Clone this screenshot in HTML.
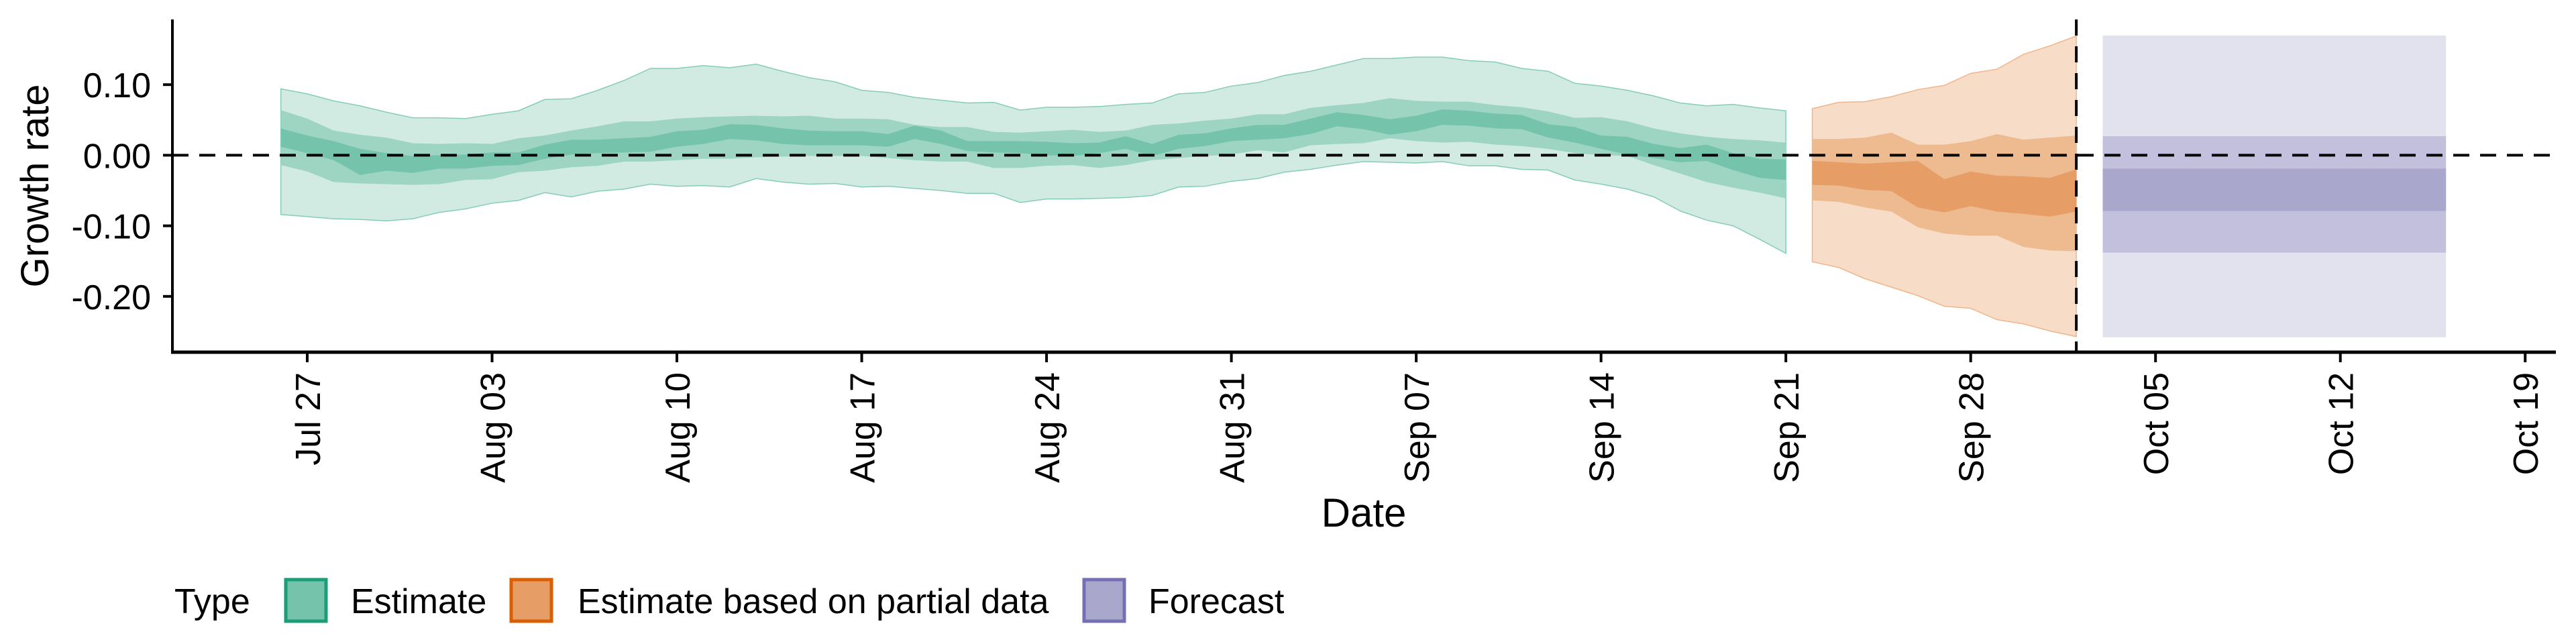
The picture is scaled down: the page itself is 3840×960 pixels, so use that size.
<!DOCTYPE html>
<html><head><meta charset="utf-8">
<style>
html,body{margin:0;padding:0;background:#fff;}
svg{display:block;font-family:"Liberation Sans",Arial,sans-serif;}
</style></head>
<body>
<svg id="chart" width="3840" height="960" viewBox="0 0 3840 960" xmlns="http://www.w3.org/2000/svg">
<g id="bands"></g>
<g id="axes"></g>
<text transform="translate(72,277) rotate(-90)" text-anchor="middle" font-size="58">Growth rate</text>
<text x="2033" y="785" text-anchor="middle" font-size="60">Date</text>
<g font-size="52">
  <text x="260" y="914">Type</text>
  <g>
    <rect x="426" y="864" width="60" height="62" fill="#76c3ab" stroke="#1b9e77" stroke-width="5"/>
    <text x="523" y="914">Estimate</text>
  </g>
  <g>
    <rect x="762" y="864" width="60" height="62" fill="#e69d66" stroke="#d95f02" stroke-width="5"/>
    <text x="861" y="914">Estimate based on partial data</text>
  </g>
  <g>
    <rect x="1616" y="864" width="60" height="62" fill="#aaa7cd" stroke="#7570b3" stroke-width="5"/>
    <text x="1712" y="914">Forecast</text>
  </g>
</g>
</svg>
<script>
// day index 0 = Jul 27
const estDays = [-1,0,1,2,3,4,5,6,7,8,9,10,11,12,13,14,15,16,17,18,19,20,21,22,23,24,25,26,27,28,29,30,31,32,33,34,35,36,37,38,39,40,41,42,43,44,45,46,47,48,49,50,51,52,53,54,55,56];
const estU90 = [0.094,0.087,0.077,0.070,0.061,0.053,0.053,0.052,0.058,0.063,0.079,0.080,0.092,0.106,0.123,0.123,0.127,0.124,0.129,0.119,0.110,0.104,0.092,0.089,0.082,0.078,0.074,0.075,0.064,0.068,0.068,0.069,0.072,0.074,0.087,0.089,0.098,0.103,0.113,0.119,0.128,0.137,0.137,0.139,0.139,0.134,0.132,0.123,0.119,0.102,0.098,0.092,0.084,0.074,0.070,0.072,0.067,0.063];
const estL90 = [-0.084,-0.087,-0.090,-0.091,-0.093,-0.090,-0.081,-0.076,-0.068,-0.064,-0.053,-0.059,-0.051,-0.048,-0.041,-0.044,-0.043,-0.045,-0.033,-0.038,-0.041,-0.040,-0.045,-0.044,-0.047,-0.050,-0.054,-0.054,-0.067,-0.062,-0.062,-0.061,-0.060,-0.057,-0.045,-0.044,-0.037,-0.033,-0.024,-0.020,-0.014,-0.009,-0.010,-0.011,-0.009,-0.015,-0.015,-0.020,-0.021,-0.035,-0.041,-0.048,-0.059,-0.079,-0.092,-0.100,-0.119,-0.139];
const estU50 = [0.064,0.052,0.035,0.029,0.025,0.017,0.016,0.017,0.016,0.024,0.028,0.035,0.041,0.048,0.048,0.052,0.054,0.055,0.056,0.055,0.056,0.052,0.052,0.051,0.043,0.040,0.040,0.033,0.032,0.034,0.036,0.033,0.035,0.043,0.045,0.049,0.052,0.058,0.058,0.067,0.071,0.074,0.081,0.077,0.076,0.076,0.071,0.068,0.062,0.053,0.054,0.048,0.038,0.031,0.026,0.023,0.021,0.018];
const estL50 = [-0.014,-0.023,-0.038,-0.040,-0.041,-0.042,-0.041,-0.035,-0.034,-0.024,-0.022,-0.017,-0.015,-0.009,-0.009,-0.007,-0.005,-0.005,-0.003,-0.002,-0.001,-0.001,-0.001,-0.004,-0.007,-0.009,-0.009,-0.018,-0.018,-0.015,-0.014,-0.018,-0.014,-0.007,-0.004,-0.001,0.001,0.007,0.004,0.014,0.016,0.017,0.024,0.020,0.018,0.019,0.015,0.013,0.009,0.003,0.000,-0.001,-0.014,-0.026,-0.038,-0.046,-0.053,-0.061];
const estU20 = [0.038,0.028,0.020,0.009,0.003,-0.001,0.000,0.001,0.004,0.004,0.015,0.022,0.022,0.024,0.026,0.034,0.036,0.044,0.043,0.038,0.035,0.034,0.034,0.030,0.042,0.035,0.020,0.020,0.020,0.019,0.017,0.018,0.027,0.016,0.029,0.031,0.038,0.043,0.043,0.052,0.061,0.057,0.051,0.056,0.065,0.063,0.059,0.057,0.044,0.040,0.028,0.026,0.016,0.010,0.015,0.003,-0.005,-0.006];
const estL20 = [0.012,0.003,-0.007,-0.028,-0.022,-0.025,-0.019,-0.019,-0.015,-0.014,-0.005,0.001,0.003,0.004,0.005,0.012,0.016,0.023,0.021,0.016,0.014,0.014,0.014,0.012,0.023,0.016,0.006,0.004,0.003,0.000,-0.001,0.003,0.009,-0.001,0.009,0.013,0.020,0.022,0.024,0.030,0.041,0.037,0.029,0.034,0.043,0.042,0.038,0.037,0.025,0.018,0.009,0.001,-0.004,-0.010,-0.008,-0.021,-0.032,-0.035];

const partDays = [57,58,59,60,61,62,63,64,65,66,67];
const partU90 = [0.066,0.075,0.076,0.083,0.093,0.099,0.116,0.122,0.143,0.155,0.169];
const partL90 = [-0.151,-0.159,-0.175,-0.187,-0.199,-0.214,-0.217,-0.233,-0.239,-0.249,-0.257];
const partU50 = [0.023,0.023,0.025,0.032,0.015,0.015,0.020,0.030,0.022,0.025,0.028];
const partL50 = [-0.064,-0.066,-0.074,-0.080,-0.102,-0.111,-0.114,-0.114,-0.130,-0.135,-0.136];
const partU20 = [-0.008,-0.010,-0.012,-0.010,-0.008,-0.034,-0.023,-0.029,-0.030,-0.032,-0.020];
const partL20 = [-0.042,-0.043,-0.049,-0.051,-0.074,-0.081,-0.072,-0.080,-0.083,-0.087,-0.080];

const fcStart = 68, fcEnd = 81;
const fcBounds = [0.1696,-0.258,0.027,-0.138,-0.019,-0.079];

const yTicks = [0.10,0.00,-0.10,-0.20];
const yTickLabels = ["0.10","0.00","-0.10","-0.20"];
const xTicks = [0,7,14,21,28,35,42,49,56,63,70,77,84];
const xTickLabels = ["Jul 27","Aug 03","Aug 10","Aug 17","Aug 24","Aug 31","Sep 07","Sep 14","Sep 21","Sep 28","Oct 05","Oct 12","Oct 19"];
const dataCutoff = 67;

const NS = "http://www.w3.org/2000/svg";
const X = d => 458 + 39.36 * d;
const Y = v => 231.4 - 1052 * v;
function mk(tag, attrs, parent){ const e=document.createElementNS(NS,tag); for(const k in attrs) e.setAttribute(k,attrs[k]); parent.appendChild(e); return e; }
function band(parent, days, up, lo, fill, stroke, name){
  let pts = days.map((d,i)=>X(d)+","+Y(up[i]));
  for(let i=days.length-1;i>=0;i--) pts.push(X(days[i])+","+Y(lo[i]));
  const p = mk("polygon",{points:pts.join(" "),fill:fill,stroke:stroke,"stroke-width":stroke==="none"?0:1.5},parent);
  
  
}
const bands = document.getElementById("bands");
band(bands, estDays, estU90, estL90, "#d2ebe2", "#86cdb6", "estimate-band-90");
band(bands, estDays, estU50, estL50, "#9dd4c2", "none", "estimate-band-50");
band(bands, estDays, estU20, estL20, "#76c3ab", "none", "estimate-band-20");
band(bands, partDays, partU90, partL90, "#f7dcc8", "#f0b58a", "partial-band-90");
band(bands, partDays, partU50, partL50, "#eeba8f", "none", "partial-band-50");
band(bands, partDays, partU20, partL20, "#e69d66", "none", "partial-band-20");
const fcNames = ["forecast-band-90","forecast-band-50","forecast-band-20"];
const fcFills = ["#e2e2ef","#c3c0dd","#aaa7cd"];
for(let k=0;k<3;k++){
  const up=fcBounds[2*k], lo=fcBounds[2*k+1];
  const r = mk("rect",{x:X(fcStart),y:Y(up),width:X(fcEnd)-X(fcStart),height:Y(lo)-Y(up),fill:fcFills[k]},bands);
  
  
}
const axes = document.getElementById("axes");
const zl = mk("line",{x1:257,x2:3810,y1:Y(0),y2:Y(0),stroke:"#000","stroke-width":4,"stroke-dasharray":"24 16"},axes);


const vl = mk("line",{x1:X(dataCutoff),x2:X(dataCutoff),y1:29,y2:525,stroke:"#000","stroke-width":4,"stroke-dasharray":"24 16"},axes);


const ya = mk("line",{x1:257,x2:257,y1:29,y2:527,stroke:"#000","stroke-width":4},axes);


const xa = mk("line",{x1:255,x2:3810,y1:525,y2:525,stroke:"#000","stroke-width":5},axes);


yTicks.forEach((v,i)=>{
  const t = mk("line",{x1:243,x2:257,y1:Y(v),y2:Y(v),stroke:"#000","stroke-width":4},axes);
  
  
  const l = mk("text",{x:225,y:Y(v)+19,"text-anchor":"end","font-size":52},axes);
  l.textContent = yTickLabels[i];
  
  
});
xTicks.forEach((d,i)=>{
  const t = mk("line",{x1:X(d),x2:X(d),y1:527,y2:540,stroke:"#000","stroke-width":4},axes);
  
  
  const l = mk("text",{transform:"translate("+(X(d)+19)+",555) rotate(-90)","text-anchor":"end","font-size":52},axes);
  l.textContent = xTickLabels[i];
  
  
});
</script>
</body></html>
